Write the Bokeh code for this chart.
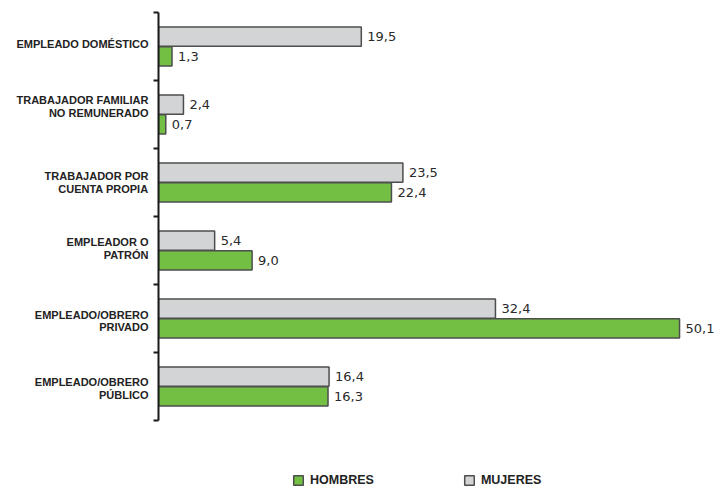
from bokeh.plotting import figure
from bokeh.models import ColumnDataSource, FixedTicker, LabelSet, Legend, LegendItem
from bokeh.core.properties import value
from bokeh.embed import file_html
from bokeh.resources import INLINE

# categories listed bottom -> top
categories = [
    "EMPLEADO/OBRERO\nPÚBLICO",
    "EMPLEADO/OBRERO\nPRIVADO",
    "EMPLEADOR O\nPATRÓN",
    "TRABAJADOR POR\nCUENTA PROPIA",
    "TRABAJADOR FAMILIAR\nNO REMUNERADO",
    "EMPLEADO DOMÉSTICO",
]
hombres = [16.3, 50.1, 9.0, 22.4, 0.7, 1.3]
mujeres = [16.4, 32.4, 5.4, 23.5, 2.4, 19.5]
series_names = ["HOMBRES", "MUJERES"]

GREEN = "#72bf44"
GRAY = "#d3d4d5"
EDGE = "#4d4d4d"

n = len(categories)
idx = list(range(n))
y_h = [i + 0.355 for i in idx]
y_m = [i + 0.645 for i in idx]

def fmt(v):
    return f"{v:.1f}".replace(".", ",")

src_h = ColumnDataSource(dict(y=y_h, v=hombres, lab=[fmt(v) for v in hombres]))
src_m = ColumnDataSource(dict(y=y_m, v=mujeres, lab=[fmt(v) for v in mujeres]))

W, H = 717, 489
frame_left, frame_top = 158, 12
px_per_unit_y = 68.0
frame_h = H - frame_top
y_start = n - frame_h / px_per_unit_y
x_end = (W - frame_left) / 10.4

p = figure(width=W, height=H, output_backend="svg", toolbar_location=None,
           x_range=(0, x_end), y_range=(y_start, n),
           min_border_left=frame_left, min_border_right=0,
           min_border_top=frame_top, min_border_bottom=0)
p.outline_line_color = None
p.xgrid.visible = False
p.ygrid.visible = False
p.xaxis.visible = False

rh = p.hbar(y="y", right="v", left=0, height=0.28, source=src_h,
            fill_color=GREEN, line_color=EDGE, line_width=1.5)
rm = p.hbar(y="y", right="v", left=0, height=0.28, source=src_m,
            fill_color=GRAY, line_color=EDGE, line_width=1.5)

for s in (src_h, src_m):
    p.add_layout(LabelSet(x="v", y="y", text="lab", source=s, x_offset=6,
                          text_baseline="middle", text_align="left",
                          text_font=value("DejaVu Sans"), text_font_size=value("13px"),
                          text_color="#2a2a2a"))

# small vertical nudges (px) of the category labels, bottom -> top
label_nudge_px = [-2, -2.5, 2, 0, 8, 2.7]
label_pos = [i + 0.5 + label_nudge_px[i] / px_per_unit_y for i in idx]

ya = p.yaxis[0]
ya.ticker = FixedTicker(ticks=label_pos, minor_ticks=list(range(n + 1)))
ya.major_label_overrides = {label_pos[i]: categories[i] for i in idx}
ya.bounds = (0, n)
ya.axis_line_width = 2
ya.axis_line_color = "#1a1a1a"
ya.major_tick_line_color = None
ya.major_tick_out = 0
ya.major_tick_in = 0
ya.minor_tick_out = 5
ya.minor_tick_in = 0
ya.minor_tick_line_width = 2
ya.minor_tick_line_color = "#1a1a1a"
ya.major_label_standoff = 5
ya.major_label_text_font = "Liberation Sans"
ya.major_label_text_font_style = "bold"
ya.major_label_text_font_size = "11px"
ya.major_label_text_line_height = 1.08
ya.major_label_text_color = "#222222"

legend = Legend(items=[LegendItem(label=series_names[0], renderers=[rh]),
                       LegendItem(label=series_names[1], renderers=[rm])],
                orientation="horizontal", location=(134, 2),
                padding=0, margin=0, spacing=89,
                glyph_width=12, glyph_height=12, label_standoff=6,
                border_line_color=None, background_fill_alpha=0,
                label_text_font="Liberation Sans", label_text_font_style="bold",
                label_text_font_size="12.5px", label_text_color="#222222")
p.add_layout(legend)

open("out.html", "w").write(file_html(p, INLINE))
